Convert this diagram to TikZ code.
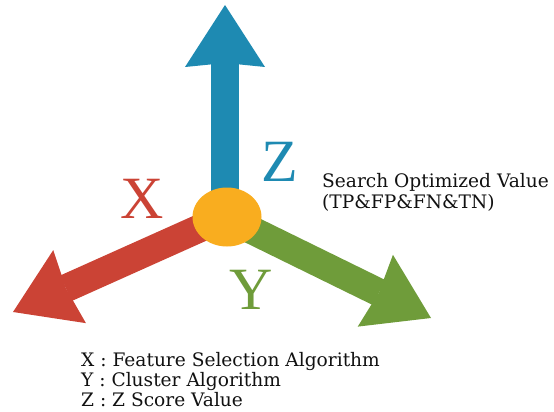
\documentclass[tikz,border=0pt]{standalone}
\usepackage{fontspec}
\setmainfont{DejaVu Serif}
\newfontfamily\axisfont{Liberation Serif}
\usetikzlibrary{arrows.meta,shapes.geometric}

\definecolor{palZ}{HTML}{1E8AB2}
\definecolor{palX}{HTML}{CB4335}
\definecolor{palY}{HTML}{6F9C3A}
\definecolor{palO}{HTML}{F9AD1F}
\definecolor{palT}{HTML}{111111}

\begin{document}
\begin{tikzpicture}[
    x=1pt, y=-1pt,
    axisarrow/.style={line width=28pt,
        -{Stealth[length=62pt, width=80pt, inset=4pt, line width=0pt]}},
    axislbl/.style={font=\axisfont\fontsize{60}{60}\selectfont, inner sep=0pt},
    note/.style={font=\fontsize{18.6}{21}\selectfont, text=palT, align=left, inner sep=0pt},
]
\useasboundingbox (0,0) rectangle (554,412);

% origin and arrow tips
\coordinate (o) at (225,217);
\coordinate (ztip) at (225,5);
\coordinate (xtip) at (13,312);
\coordinate (ytip) at (431,318);

% three axes
\draw[axisarrow, palZ] (o) -- (ztip);
\draw[axisarrow, palX] (o) -- (xtip);
\draw[axisarrow, palY] (o) -- (ytip);

% centre point
\node[ellipse, fill=palO, minimum width=69pt, minimum height=59pt, inner sep=0pt]
    (origin) at (227,217) {};

% axis letters
\node[axislbl, text=palZ] (zlbl) at (280,162) {Z};
\node[axislbl, text=palX] (xlbl) at (142,199) {X};
\node[axislbl, text=palY] (ylbl) at (251,290) {Y};

% value label
\node[note, anchor=west] (value) at (322,192.5)
    {Search Optimized Value\\(TP\&FP\&FN\&TN)};

% legend
\node[note, anchor=west, font=\fontsize{18.6}{20}\selectfont] (legend) at (81,380)
    {X : Feature Selection Algorithm\\Y : Cluster Algorithm\\Z : Z Score Value};

\end{tikzpicture}
\end{document}
